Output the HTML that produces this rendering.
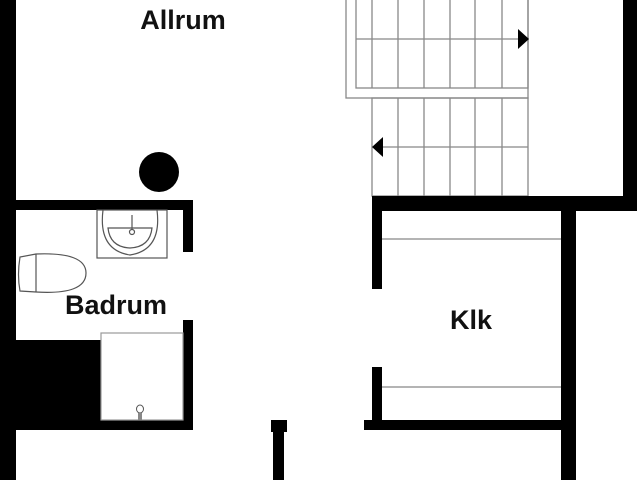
<!DOCTYPE html>
<html><head><style>
body{margin:0;background:#fff;}
.l{font-family:"Liberation Sans",sans-serif;font-weight:bold;font-size:27px;fill:#111;}
</style></head><body>
<svg width="640" height="480" viewBox="0 0 640 480" xmlns="http://www.w3.org/2000/svg">
<rect width="640" height="480" fill="#fff"/>
<!-- stairs -->
<g fill="none" stroke="#888" stroke-width="1.3">
<rect x="346" y="-5" width="182" height="103"/>
<rect x="356" y="-5" width="172" height="93"/>
<rect x="372" y="98" width="156" height="98"/>
<path d="M372 0V88M398 0V88M424 0V88M450 0V88M475 0V88M502 0V88"/>
<path d="M398 98V196M424 98V196M450 98V196M475 98V196M502 98V196"/>
<path d="M356 39H520M380 147H528"/>
</g>
<polygon points="518,29 529,39 518,49" fill="#000"/>
<polygon points="372,147 383,137 383,157" fill="#000"/>
<!-- walls -->
<g fill="#000">
<rect x="0" y="0" width="16" height="480"/>
<rect x="16" y="200" width="177" height="10"/>
<rect x="183" y="200" width="10" height="52"/>
<rect x="183" y="320" width="10" height="110"/>
<rect x="16" y="420" width="177" height="10"/>
<rect x="16" y="340" width="85" height="80"/>
<rect x="623" y="0" width="14" height="211"/>
<rect x="372" y="196" width="265" height="15"/>
<rect x="372" y="196" width="10" height="93"/>
<rect x="372" y="367" width="10" height="63"/>
<rect x="561" y="196" width="15" height="284"/>
<rect x="364" y="420" width="212" height="10"/>
<rect x="271" y="420" width="16" height="12"/>
<rect x="273" y="420" width="11" height="60"/>
<circle cx="159" cy="172" r="20"/>
</g>
<!-- fixtures -->
<g fill="none" stroke="#555" stroke-width="1.2">
<rect x="97" y="210" width="70" height="48"/>
<path d="M103 210 Q98 250 130 255 Q162 250 157 210"/>
<path d="M108 228 Q110 247 130 248 Q150 247 152 228 Z"/>
<circle cx="132" cy="232" r="2.5"/>
<path d="M132 215V229"/>
<path d="M20 257 Q17 275 20 291 L36 292 Q86 295 86 273 Q86 252 36 254 Z"/>
<path d="M36 254 V292"/>
<rect x="101" y="333" width="82" height="87" stroke="#999"/>
<path d="M382 239H561M382 387H561" stroke="#888"/>
</g>
<ellipse cx="140" cy="409" rx="3.5" ry="4" fill="none" stroke="#555"/>
<rect x="138" y="413" width="4" height="7" fill="#888"/>
<text class="l" x="183" y="29" text-anchor="middle">Allrum</text>
<text class="l" x="116" y="314" text-anchor="middle">Badrum</text>
<text class="l" x="471" y="329" text-anchor="middle">Klk</text>
</svg>
</body></html>
